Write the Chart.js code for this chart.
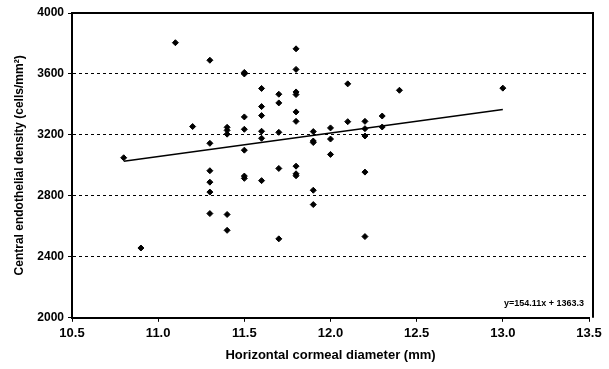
<!DOCTYPE html>
<html>
<head>
<meta charset="utf-8">
<script src="https://cdn.jsdelivr.net/npm/chart.js@4"></script>
<style>
  html, body { margin: 0; padding: 0; background: #fff; }
  #wrap { width: 609px; height: 369px; }
</style>
</head>
<body>
<div id="wrap"><canvas id="chart" width="609" height="369"></canvas></div>
<script>
// horizontal corneal diameter (mm) vs central endothelial density (cells/mm2)
const diameter = [
  10.8, 10.9, 11.1, 11.2,
  11.3, 11.3, 11.3, 11.3, 11.3, 11.3,
  11.4, 11.4, 11.4, 11.4, 11.4,
  11.5, 11.5, 11.5, 11.5, 11.5, 11.5, 11.5,
  11.6, 11.6, 11.6, 11.6, 11.6, 11.6,
  11.7, 11.7, 11.7, 11.7, 11.7,
  11.8, 11.8, 11.8, 11.8, 11.8, 11.8, 11.8, 11.8, 11.8,
  11.9, 11.9, 11.9, 11.9, 11.9,
  12.0, 12.0, 12.0,
  12.1, 12.1,
  12.2, 12.2, 12.2, 12.2, 12.2,
  12.3, 12.3,
  12.4, 13.0
];
const density = [
  3050, 2458, 3805, 3255,
  3690, 3145, 2965, 2890, 2825, 2684,
  3250, 3230, 3205, 2678, 2574,
  3610, 3600, 3318, 3237, 3100, 2930, 2915,
  3505, 3386, 3327, 3224, 3178, 2900,
  3467, 3410, 3217, 2980, 2518,
  3765, 3630, 3482, 3465, 3351, 3289, 2995, 2945, 2932,
  3222, 3160, 3150, 2837, 2743,
  3246, 3173, 3072,
  3535, 3287,
  3289, 3241, 3193, 2956, 2533,
  3324, 3252,
  3493, 3507
];

// trend line y = 154.11x + 1363.3, drawn over the range of the data
const slope = 154.11;
const intercept = 1363.3;
const trendX = [10.8, 13.0];
const equationText = 'y=154.11x + 1363.3';

const xTicks = [10.5, 11.0, 11.5, 12.0, 12.5, 13.0, 13.5];
const yTicks = [2000, 2400, 2800, 3200, 3600, 4000];

const points = diameter.map((d, i) => ({ x: d, y: density[i] }));
const trend = trendX.map(x => ({ x: x, y: slope * x + intercept }));

const narrow = "'Liberation Sans Narrow', 'Arial Narrow', 'Liberation Sans', sans-serif";

const boxPlugin = {
  id: 'box',
  afterDraw(chart) {
    const { ctx, chartArea: a } = chart;
    ctx.save();
    ctx.strokeStyle = '#000';
    ctx.lineWidth = 2;
    ctx.beginPath();
    ctx.moveTo(a.left, a.top);
    ctx.lineTo(a.right + 4, a.top);
    ctx.lineTo(a.right + 4, a.bottom);
    ctx.stroke();
    ctx.font = 'bold 9px ' + narrow;
    ctx.fillStyle = '#000';
    ctx.textAlign = 'right';
    ctx.textBaseline = 'middle';
    ctx.fillText(equationText, a.right - 5, a.bottom - 14);
    ctx.restore();
  }
};

new Chart(document.getElementById('chart'), {
  type: 'scatter',
  data: {
    datasets: [{
      label: 'Endothelial density',
      data: points,
      backgroundColor: '#000',
      borderColor: '#000',
      pointStyle: 'rectRot',
      pointRadius: 3,
      pointHoverRadius: 3
    }, {
      type: 'line',
      label: 'Trend',
      data: trend,
      borderColor: '#000',
      borderWidth: 1.5,
      pointRadius: 0,
      fill: false
    }]
  },
  options: {
    responsive: false,
    animation: false,
    layout: { padding: { left: 0, right: 20, top: 13, bottom: 6 } },
    plugins: {
      legend: { display: false },
      tooltip: { enabled: false }
    },
    scales: {
      x: {
        type: 'linear',
        min: 10.5,
        max: 13.5,
        afterBuildTicks: (s) => { s.ticks = xTicks.map(v => ({ value: v })); },
        ticks: {
          color: '#000',
          font: { family: narrow, size: 13, weight: 'bold' },
          padding: 4,
          maxRotation: 0,
          callback: (v) => Number(v).toFixed(1)
        },
        grid: { drawOnChartArea: false, color: '#000', tickLength: 4 },
        border: { color: '#000', width: 2 },
        title: {
          display: true,
          text: 'Horizontal cormeal diameter (mm)',
          color: '#000',
          font: { family: narrow, size: 13, weight: 'bold' },
          padding: { top: 2, bottom: 0 }
        }
      },
      y: {
        type: 'linear',
        min: 2000,
        max: 4000,
        afterBuildTicks: (s) => { s.ticks = yTicks.map(v => ({ value: v })); },
        afterFit: (s) => { s.width = 72; },
        ticks: {
          color: '#000',
          font: { family: narrow, size: 12, weight: 'bold' },
          padding: 4,
          callback: (v) => String(v)
        },
        grid: {
          color: (c) => (c.tick && (c.tick.value === 2000 || c.tick.value === 4000)) ? 'rgba(0,0,0,0)' : '#000',
          tickColor: '#000',
          lineWidth: 1,
          tickLength: 4
        },
        border: { color: '#000', width: 2, dash: [3, 3] },
        title: {
          display: true,
          text: 'Central endothelial density (cells/mm²)',
          color: '#000',
          font: { family: narrow, size: 12, weight: 'bold' },
          padding: { top: 12, bottom: 2 }
        }
      }
    }
  },
  plugins: [boxPlugin]
});
</script>
</body>
</html>
